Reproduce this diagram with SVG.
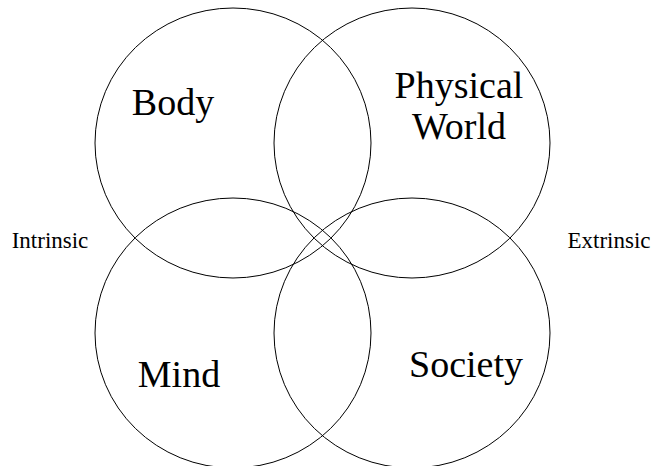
<svg xmlns="http://www.w3.org/2000/svg" width="651" height="466" viewBox="0 0 651 466">
<style>
.c{fill:none;stroke:#000;stroke-width:1}
.big{font-family:"Liberation Serif","Times New Roman",serif;font-size:38px;fill:#000;text-anchor:middle}
.small{font-family:"Liberation Serif","Times New Roman",serif;font-size:23px;fill:#000;text-anchor:middle}
</style>
<rect width="651" height="466" fill="#fff"/>
<g id="body"><ellipse class="c" cx="233" cy="143" rx="138" ry="135"/><text class="big" x="173" y="115">Body</text></g>
<g id="physical-world"><ellipse class="c" cx="412" cy="143" rx="138" ry="135"/><text class="big" x="459" y="98">Physical</text><text class="big" x="459" y="139">World</text></g>
<g id="mind"><ellipse class="c" cx="233" cy="333" rx="138" ry="135"/><text class="big" x="179" y="387">Mind</text></g>
<g id="society"><ellipse class="c" cx="412" cy="333" rx="138" ry="135"/><text class="big" x="466" y="377">Society</text></g>
<g id="intrinsic"><text class="small" x="50" y="248">Intrinsic</text></g>
<g id="extrinsic"><text class="small" x="609" y="248">Extrinsic</text></g>
<g id="connectors"></g>
</svg>
